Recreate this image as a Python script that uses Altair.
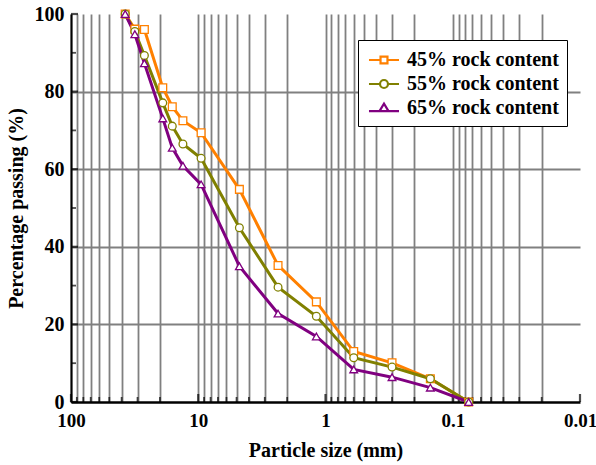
import altair as alt
import pandas as pd

# ---------------- data ----------------
sizes = [37.5, 31.5, 26.5, 19, 16, 13.2, 9.5, 4.75, 2.36, 1.18, 0.6, 0.3, 0.15, 0.075]
pass_45 = [100, 96.1, 96.0, 81.0, 76.1, 72.5, 69.4, 54.8, 35.2, 25.8, 13.0, 10.1, 6.0, 0]
pass_55 = [100, 95.5, 89.3, 77.1, 71.1, 66.5, 62.8, 44.9, 29.6, 22.1, 11.4, 9.0, 6.0, 0]
pass_65 = [100, 94.8, 87.3, 73.1, 65.5, 60.9, 56.1, 35.0, 22.8, 16.9, 8.4, 6.4, 3.7, 0]
series_names = ["45% rock content", "55% rock content", "65% rock content"]
series_colors = ["#FF8000", "#808000", "#800080"]
marker_shapes = ["square", "circle", "triangle-up"]

y_tick_values = [0, 10, 20, 30, 40, 50, 60, 70, 80, 90, 100]
x_decades = [100, 10, 1, 0.1, 0.01]
x_tick_values = sorted({round(m * 10.0 ** k, 6) for k in range(-2, 2) for m in range(1, 10)} | {100.0})

rows = []
for name, vals in zip(series_names, [pass_45, pass_55, pass_65]):
    for s, v in zip(sizes, vals):
        rows.append({"size": s, "passing": v, "series": name})
df = pd.DataFrame(rows)

xt = pd.DataFrame({"x": x_tick_values, "base": 0.0})
xt["major"] = xt["x"].isin(x_decades)
yt = pd.DataFrame({"y": y_tick_values, "base": 100.0})
yt["major"] = yt["y"] % 20 == 0

FONT = "Liberation Serif"

x_scale = alt.Scale(type="log", domain=[0.01, 100], reverse=True, nice=False)
y_scale = alt.Scale(domain=[0, 100], nice=False)

x_axis = alt.Axis(
    title="Particle size (mm)",
    values=x_tick_values,
    labelExpr="abs(log(datum.value)/LN10 - round(log(datum.value)/LN10)) < 1e-6 ? '' + datum.value : ''",
    labelOverlap=False,
    labelFlush=False,
    ticks=False,
    tickSize=0,
    labelPadding=9,
    labelFontSize=19,
    titlePadding=10,
    grid=True,
    gridColor="#808080",
    gridWidth=1.8,
    gridOpacity={"condition": {"test": "datum.value < 0.0101", "value": 0}, "value": 1},
    domainColor="black",
    domainWidth=2.5,
)
y_axis = alt.Axis(
    title="Percentage passing (%)",
    values=y_tick_values,
    labelExpr="datum.value % 20 == 0 ? '' + datum.value : ''",
    labelOverlap=False,
    labelFlush=False,
    ticks=False,
    tickSize=0,
    labelPadding=7,
    titlePadding=8,
    grid=True,
    gridColor="#808080",
    gridWidth=1.8,
    gridOpacity={"condition": {"test": "datum.value > 99 || datum.value < 1", "value": 0}, "value": 1},
    domainColor="black",
    domainWidth=2,
)

color_scale = alt.Scale(domain=series_names, range=series_colors)

base = alt.Chart(df)

lines = base.mark_line(strokeWidth=3, clip=False).encode(
    x=alt.X("size:Q", scale=x_scale, axis=x_axis),
    y=alt.Y("passing:Q", scale=y_scale, axis=y_axis),
    color=alt.Color("series:N", scale=color_scale, legend=None),
    detail="series:N",
)

points = base.mark_point(filled=False, fill="white", fillOpacity=1, strokeWidth=1.3, size=60, opacity=1).encode(
    x=alt.X("size:Q", scale=x_scale),
    y=alt.Y("passing:Q", scale=y_scale),
    color=alt.Color("series:N", scale=color_scale, legend=None),
    shape=alt.Shape("series:N", scale=alt.Scale(domain=series_names, range=marker_shapes), legend=None),
)

legend_paths = [
    "M-1.43,0H-0.33M0.33,0H1.43M-0.33,-0.33H0.33V0.33H-0.33Z",
    "M-1.43,0H-0.38M0.38,0H1.43M-0.38,0A0.38,0.38 0 1,0 0.38,0A0.38,0.38 0 1,0 -0.38,0Z",
    "M-1.43,0.3H-0.43M0.43,0.3H1.43M-0.43,0.3L0,-0.42L0.43,0.3Z",
]

legend_layer = base.mark_point(opacity=0, filled=False).encode(
    x=alt.X("size:Q", scale=x_scale),
    y=alt.Y("passing:Q", scale=y_scale),
    color=alt.Color(
        "series:N",
        scale=color_scale,
        legend=alt.Legend(
            title=None,
            orient="none",
            legendX=287,
            legendY=26,
            labelFont=FONT,
            labelFontSize=20,
            labelFontWeight="bold",
            labelColor="black",
            labelLimit=400,
            labelOffset=11,
            symbolSize=441,
            symbolOffset=6,
            symbolStrokeWidth=2.2,
            symbolFillColor="white",
            symbolOpacity=1,
            rowPadding=2,
            padding=8,
            strokeColor="black",
            fillColor="white",
            cornerRadius=0,
        ),
    ),
    shape=alt.Shape("series:N", scale=alt.Scale(domain=series_names, range=legend_paths)),
)

x_minor_ticks = alt.Chart(xt).transform_filter("!datum.major").mark_tick(
    orient="vertical", size=5, thickness=1.8, color="black", yOffset=-2.5
).encode(x=alt.X("x:Q", scale=x_scale), y=alt.Y("base:Q", scale=y_scale))
x_major_ticks = alt.Chart(xt).transform_filter("datum.major").mark_tick(
    orient="vertical", size=8, thickness=2.2, color="black", yOffset=-4
).encode(x=alt.X("x:Q", scale=x_scale), y=alt.Y("base:Q", scale=y_scale))
y_minor_ticks = alt.Chart(yt).transform_filter("!datum.major").mark_tick(
    orient="horizontal", size=5, thickness=1.8, color="black", xOffset=2.5
).encode(x=alt.X("base:Q", scale=x_scale), y=alt.Y("y:Q", scale=y_scale))
y_major_ticks = alt.Chart(yt).transform_filter("datum.major").mark_tick(
    orient="horizontal", size=7, thickness=2.2, color="black", xOffset=3.5
).encode(x=alt.X("base:Q", scale=x_scale), y=alt.Y("y:Q", scale=y_scale))

chart = (
    alt.layer(x_minor_ticks, x_major_ticks, y_minor_ticks, y_major_ticks, lines, points, legend_layer)
    .resolve_scale(color="independent", shape="independent")
    .properties(
        width=509,
        height=388,
        autosize=alt.AutoSizeParams(type="none"),
        padding={"left": 71, "top": 14, "right": 16, "bottom": 63},
        background="white",
    )
    .configure_view(stroke=None)
    .configure_axis(
        labelFont=FONT,
        labelFontSize=20,
        labelFontWeight="bold",
        labelColor="black",
        titleFont=FONT,
        titleFontSize=20,
        titleFontWeight="bold",
        titleColor="black",
    )
)

chart.save("out.html", embed_options={"renderer": "svg", "actions": False})
